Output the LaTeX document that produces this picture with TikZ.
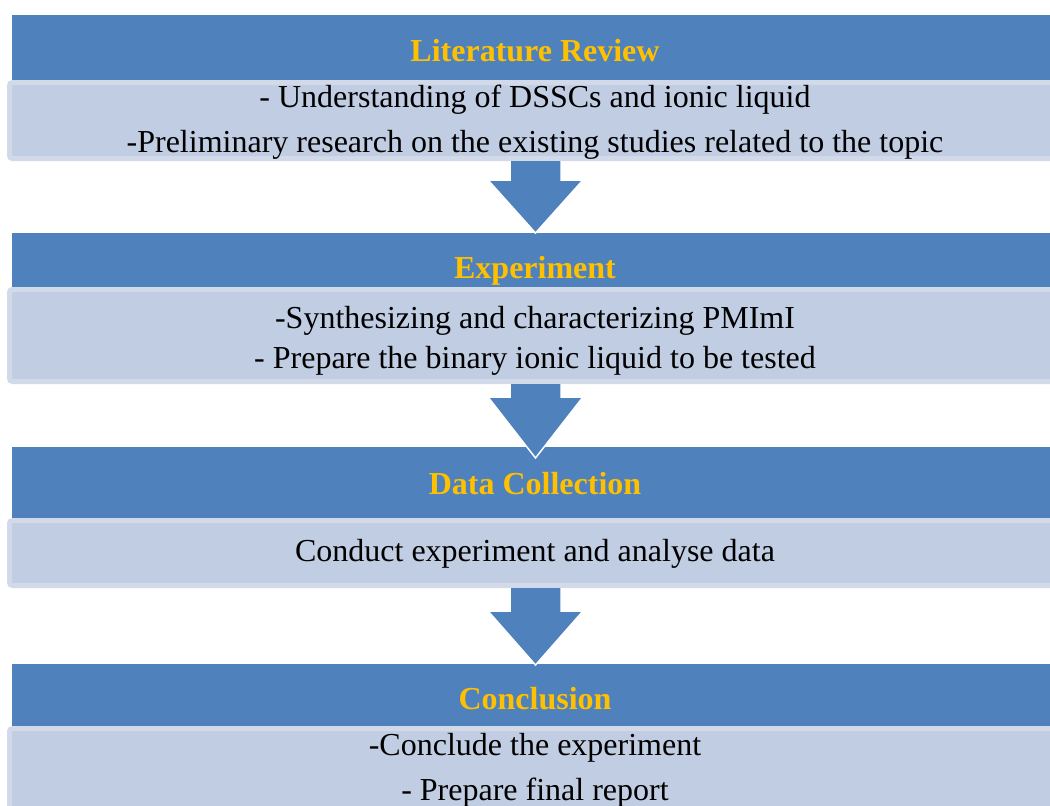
\documentclass[tikz,border=0pt]{standalone}
\usepackage{fontspec}
\setmainfont{Liberation Serif}
\usepackage{tikz}
\usetikzlibrary{calc}

\definecolor{barblue}{HTML}{4F81BD}
\definecolor{boxfill}{HTML}{C1CDE2}
\definecolor{boxedge}{HTML}{D2DAEA}
\definecolor{titlegold}{HTML}{FFC000}

% block arrow from the bottom of a box down to a tip coordinate
\newcommand{\flowarrow}[3]{%
  \filldraw[arrowblock] let \p1=(#1.south), \p2=(#2) in
    (\x2-12.75pt,\y1-1.25pt) -- (\x2-12.75pt,\y2+#3) -- (\x2-23.75pt,\y2+#3)
    -- (\x2,\y2) -- (\x2+23.75pt,\y2+#3) -- (\x2+12.75pt,\y2+#3)
    -- (\x2+12.75pt,\y1-1.25pt);}

\begin{document}
\begin{tikzpicture}[x=0.5pt,y=-0.5pt,
    every node/.style={inner sep=0pt,outer sep=0pt},
    headbar/.style={rectangle,fill=barblue,minimum width=523pt},
    bodybox/.style={rectangle,fill=boxfill,draw=boxedge,line width=2.5pt,
      rounded corners=1.5pt,minimum width=525.5pt},
    title/.style={anchor=base,text=titlegold,font=\fontsize{16}{19}\selectfont\bfseries},
    line/.style={anchor=base,font=\fontsize{16}{19}\selectfont},
    arrowblock/.style={fill=barblue,draw=white,line width=0.75pt,line join=miter}]
  \useasboundingbox (0,0) rectangle (1050,805);
  \clip (0,0) rectangle (1050,805);

  % bars and boxes
  \node[headbar,minimum height=32.5pt] (head1) at (535,47.5) {};
  \node[bodybox,minimum height=38pt] (body1) at (535,120.5) {};
  \node[headbar,minimum height=27pt] (head2) at (535,260) {};
  \node[bodybox,minimum height=46pt] (body2) at (535,335.5) {};
  \node[headbar,minimum height=35.5pt] (head3) at (535,482.5) {};
  \node[bodybox,minimum height=32.5pt] (body3) at (535,553) {};
  \node[headbar,minimum height=31pt] (head4) at (535,695) {};
  \node[bodybox,minimum height=51.5pt] (body4) at (535,780) {};

  % arrows
  \coordinate (tip1) at (535.5,233);
  \coordinate (tip2) at (535.5,458);
  \coordinate (tip3) at (535.5,665);
  \flowarrow{body1}{tip1}{26.5pt}
  \flowarrow{body2}{tip2}{30.5pt}
  \flowarrow{body3}{tip3}{27pt}

  % texts
  \node[title] (title1) at (535,61) {Literature Review};
  \node[line] (lit1) at (535,107) {- Understanding of DSSCs and ionic liquid};
  \node[line] (lit2) at (535,152) {-Preliminary research on the existing studies related to the topic};
  \node[title] (title2) at (535,278) {Experiment};
  \node[line] (exp1) at (535,328) {-Synthesizing and characterizing PMImI};
  \node[line] (exp2) at (535,368) {- Prepare the binary ionic liquid to be tested};
  \node[title] (title3) at (535,494) {Data Collection};
  \node[line] (data1) at (535,561) {Conduct experiment and analyse data};
  \node[title] (title4) at (535,709) {Conclusion};
  \node[line] (conc1) at (535,755) {-Conclude the experiment};
  \node[line] (conc2) at (535,800) {- Prepare final report};
\end{tikzpicture}
\end{document}
